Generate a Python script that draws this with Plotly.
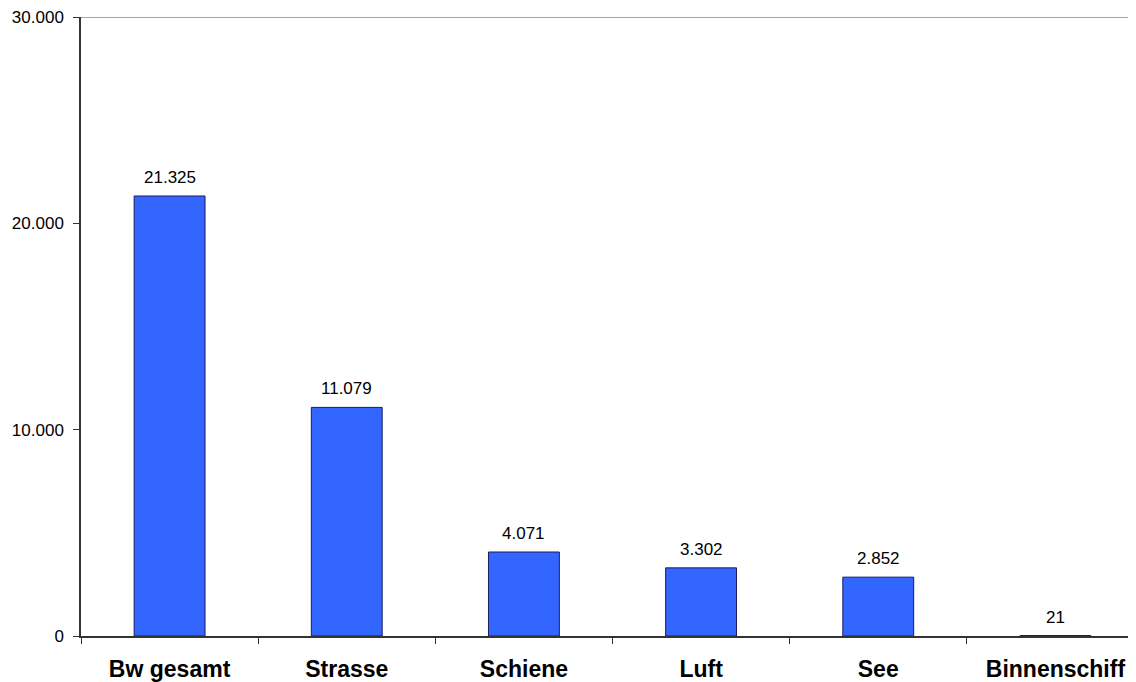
import plotly.graph_objects as go

categories = ["Bw gesamt", "Strasse", "Schiene", "Luft", "See", "Binnenschiff"]
values = [21325, 11079, 4071, 3302, 2852, 21]
y_ticks = [0, 10000, 20000, 30000]

def de_fmt(v):
    return f"{v:,}".replace(",", ".")

fig = go.Figure()
fig.add_trace(go.Bar(
    x=categories, y=values, width=0.4,
    marker=dict(color="#3366FF", line=dict(color="#1a1a60", width=1)),
    hoverinfo="skip",
))
for c, v in zip(categories, values):
    fig.add_annotation(x=c, y=v, text=de_fmt(v), showarrow=False,
                       yanchor="bottom", yshift=7,
                       font=dict(family="Liberation Sans, Arial", size=17, color="black"))

fig.add_shape(type="line", xref="paper", yref="y", x0=0, x1=1, y0=30000, y1=30000,
              line=dict(color="#8a8a8a", width=1.5))

fig.update_layout(
    width=1136, height=682,
    margin=dict(l=73, r=0, t=9, b=54),
    paper_bgcolor="white", plot_bgcolor="white",
    showlegend=False,
    separators=",.",
    font=dict(family="Liberation Sans, Arial", color="black"),
)
fig.update_xaxes(
    type="category", range=[-0.5, 5.5],
    tickson="boundaries", ticks="outside", ticklen=6, tickcolor="#333",
    showline=True, linecolor="#333", linewidth=1.5,
    showgrid=False, automargin=False, ticklabelstandoff=12,
    ticklabeloverflow="allow",
    tickfont=dict(family="Liberation Sans, Arial", size=23, color="black", weight="bold"),
)
fig.update_yaxes(
    range=[0, 30000], tickvals=y_ticks, ticktext=[de_fmt(t) for t in y_ticks],
    ticks="outside", ticklen=6, tickcolor="#333",
    showline=True, linecolor="#333", linewidth=1.5,
    showgrid=False, zeroline=False, automargin=False, ticklabelstandoff=6,
    ticklabeloverflow="allow",
    tickfont=dict(family="Liberation Sans, Arial", size=17, color="black"),
)
fig.write_html("out.html")
